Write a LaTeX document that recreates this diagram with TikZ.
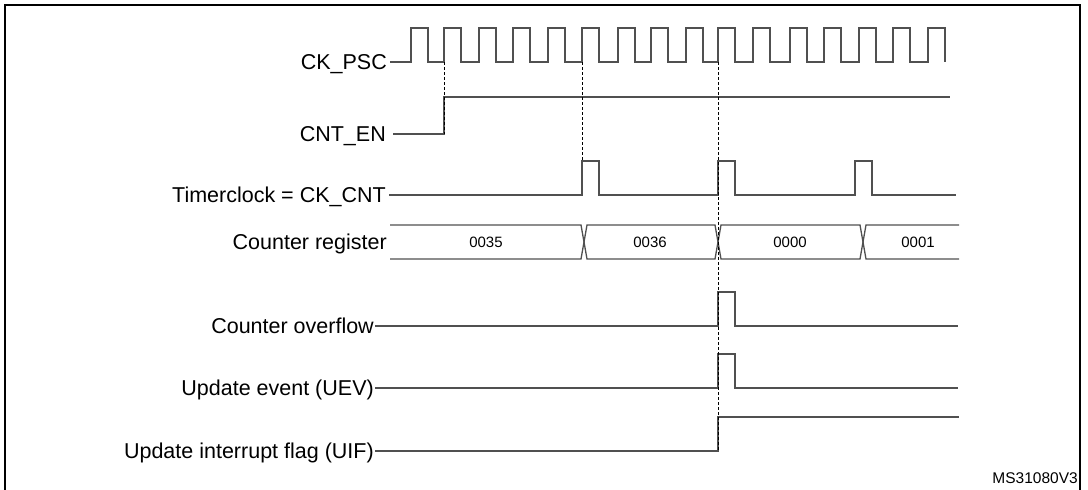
\documentclass[tikz,border=0pt]{standalone}
\usepackage{fontspec}
\setmainfont{Liberation Sans}
\definecolor{wavegray}{HTML}{505050}
\begin{document}
\begin{tikzpicture}[x=1pt,y=-1pt,
    wave/.style={draw=wavegray, line width=1.3pt},
    guide/.style={draw=black, line width=0.8pt, dash pattern=on 3pt off 2pt},
    lbl/.style={anchor=base east, inner sep=0pt, yshift=-7.7pt, font=\fontsize{21.5}{24}\selectfont},
    val/.style={font=\fontsize{15}{17}\selectfont}]
    \useasboundingbox (0,0) rectangle (1088,490);
    \draw[line width=2pt] (5,5) rectangle (1080,500);
    % signal names
    \node[lbl] (psc) at (387,62) {CK\_PSC};
    \node[lbl] (cnten) at (386,134) {CNT\_EN};
    \node[lbl] (ckcnt) at (386,195) {Timerclock = CK\_CNT};
    \node[lbl] (reg) at (387,242) {Counter register};
    \node[lbl] (ovf) at (374,326) {Counter overflow};
    \node[lbl] (uev) at (374,388) {Update event (UEV)};
    \node[lbl] (uif) at (374,451) {Update interrupt flag (UIF)};
    % waveforms
    \draw[wave] (390,62) \foreach \r in {411,444,479,513,548,582,618,651,686,718,753,790,824,859,893,928} { -- (\r,62) -- (\r,28) -- (\r+17,28) -- (\r+17,62) };
    \draw[wave] (393,134) -- (444,134) -- (444,97) -- (950,97);
    \draw[wave] (389,195) \foreach \r in {582,718,855} { -- (\r,195) -- (\r,161) -- (\r+17,161) -- (\r+17,195) } -- (956,195);
    \draw[wave] (390,225) -- (581,225) -- (587,259) -- (715,259) -- (721,225) -- (860,225) -- (866,259) -- (959,259);
    \draw[wave] (390,259) -- (581,259) -- (587,225) -- (715,225) -- (721,259) -- (860,259) -- (866,225) -- (959,225);
    \foreach \x/\v in {486/0035, 650/0036, 790/0000, 918/0001} { \node[val] at (\x,242) {\v}; }
    \draw[wave] (375,326) -- (718,326) -- (718,292) -- (735,292) -- (735,326) -- (958,326);
    \draw[wave] (375,388) -- (718,388) -- (718,354) -- (735,354) -- (735,388) -- (958,388);
    \draw[wave] (375,451) -- (718,451) -- (718,417) -- (959,417);
    % dashed guides
    \draw[guide] (444,62) -- (444,134);
    \draw[guide] (582,62) -- (582,161);
    \draw[guide] (718,62) -- (718,451);
    \node[anchor=base east, inner sep=0pt, font=\fontsize{15.5}{17}\selectfont] (code) at (1078,483) {MS31080V3};
\end{tikzpicture}
\end{document}
